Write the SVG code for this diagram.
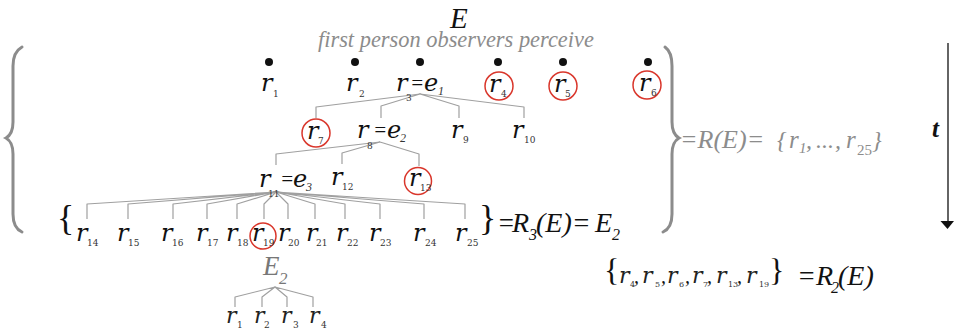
<svg xmlns="http://www.w3.org/2000/svg" width="954" height="329" viewBox="0 0 954 329">
<style>
.r{font-family:"DejaVu Serif",serif;font-style:italic;font-size:24px;fill:#111}
.rs{font-family:"DejaVu Serif",serif;font-style:italic;font-size:22px;fill:#222}
.t{font-family:"Liberation Serif",serif;font-style:italic;fill:#111}
.s{font-family:"DejaVu Serif",serif;font-size:9px;fill:#333}
.si{font-family:"Liberation Serif",serif;font-style:italic;font-size:12px;fill:#333}
.g{fill:#8c8c8c}
.c{fill:none;stroke:#d9362b;stroke-width:1.5}
.ln{fill:none;stroke:#a0a0a0;stroke-width:1.2;stroke-linejoin:round}
.br{fill:none;stroke:#8c8c8c;stroke-width:3;stroke-linecap:round}
.dot{fill:#111}
.b{font-family:"Liberation Serif",serif;fill:#111}
</style>

<g id="title">
<text x="450" y="28" class="t" font-size="29">E</text>
<text x="318" y="47" class="t g" font-size="22.4">first person observers perceive</text>
</g>

<g id="braces">
<path class="br" d="M22,47 Q13,52 13,66 L13,122 Q13,134 6,138 Q13,142 13,154 L13,214 Q13,228 22,232"/>
<path class="br" d="M665,47 Q672,52 672,66 L672,122 Q672,134 679,138 Q672,142 672,154 L672,214 Q672,228 663,232"/>
</g>

<g id="connectors">
<path class="ln" d="M420,94 L316,107 L316,118 M420,94 L381,106 L381,118 M420,94 L459,106 L459,118 M420,94 L524,107 L524,118"/>
<path class="ln" d="M380,142 L276,154 L276,165 M380,142 L342,153 L342,164 M380,142 L419,154 L419,166"/>
<path class="ln" d="M276,192 L87,204 L87,219 M276,192 L128,204 L128,219 M276,192 L173,204 L173,219 M276,192 L207,204 L207,219 M276,192 L237,204 L237,219 M276,192 L264,204 L264,219 M276,192 L288,204 L288,219 M276,192 L315,204 L315,219 M276,192 L345,204 L345,219 M276,192 L380,204 L380,219 M276,192 L424,204 L424,219 M276,192 L465,204 L465,219"/>
<path class="ln" d="M275,287 L235,297 L235,307 M275,287 L262,297 L262,307 M275,287 L287,297 L287,307 M275,287 L313,297 L313,307"/>
</g>

<g id="r1"><circle class="dot" cx="269" cy="62" r="4"/><text class="r" x="261" y="91">r</text><text class="s" x="273" y="97">1</text></g>
<g id="r2"><circle class="dot" cx="355" cy="62" r="4"/><text class="r" x="346" y="91">r</text><text class="s" x="359" y="97">2</text></g>
<g id="r3"><circle class="dot" cx="420" cy="62" r="4"/><text class="r" x="396" y="91">r</text><text class="t" x="410" y="90" font-size="21">=</text><text class="r" x="424" y="91">e</text><text class="s" x="406" y="101">3</text><text class="si" x="438" y="95">1</text></g>
<g id="r4"><circle class="dot" cx="498" cy="62" r="4"/><circle class="c" cx="499" cy="86" r="14"/><text class="r" x="489" y="92">r</text><text class="s" x="501" y="97">4</text></g>
<g id="r5"><circle class="dot" cx="563" cy="62" r="4"/><circle class="c" cx="563" cy="86" r="14"/><text class="r" x="554" y="92">r</text><text class="s" x="565" y="97">5</text></g>
<g id="r6"><circle class="dot" cx="648" cy="62" r="4"/><circle class="c" cx="647" cy="85" r="14"/><text class="r" x="639" y="91">r</text><text class="s" x="651" y="96">6</text></g>

<g id="r7"><circle class="c" cx="316" cy="133" r="14"/><text class="r" x="307" y="139">r</text><text class="s" x="318" y="144">7</text></g>
<g id="r8"><text class="r" x="357" y="138">r</text><text class="t" x="373" y="137" font-size="21">=</text><text class="r" x="387" y="138">e</text><text class="s" x="367" y="149">8</text><text class="si" x="400" y="142">2</text></g>
<g id="r9"><text class="r" x="451" y="138">r</text><text class="s" x="463" y="143">9</text></g>
<g id="r10"><text class="r" x="512" y="138">r</text><text class="s" x="524" y="143">10</text></g>

<g id="r11"><text class="r" x="259" y="187">r</text><text class="t" x="280" y="186" font-size="21">=</text><text class="r" x="293" y="187">e</text><text class="s" x="268" y="197">11</text><text class="si" x="306" y="191">3</text></g>
<g id="r12"><text class="r" x="331" y="185">r</text><text class="s" x="342" y="190">12</text></g>
<g id="r13"><circle class="c" cx="418" cy="181" r="13.5"/><text class="r" x="409" y="186">r</text><text class="s" x="420" y="191">13</text></g>

<g id="set3open"><text class="b" x="57" y="230" font-size="36">{</text></g>
<g id="r14"><text class="r" x="76" y="241">r</text><text class="s" x="87" y="246">14</text></g>
<g id="r15"><text class="r" x="117" y="241">r</text><text class="s" x="128" y="246">15</text></g>
<g id="r16"><text class="r" x="161" y="241">r</text><text class="s" x="172" y="246">16</text></g>
<g id="r17"><text class="r" x="196" y="241">r</text><text class="s" x="207" y="246">17</text></g>
<g id="r18"><text class="r" x="226" y="241">r</text><text class="s" x="237" y="246">18</text></g>
<g id="r19"><circle class="c" cx="263" cy="236" r="13"/><text class="r" x="252" y="241">r</text><text class="s" x="263" y="246">19</text></g>
<g id="r20"><text class="r" x="278" y="241">r</text><text class="s" x="288" y="246">20</text></g>
<g id="r21"><text class="r" x="306" y="241">r</text><text class="s" x="316" y="246">21</text></g>
<g id="r22"><text class="r" x="336" y="241">r</text><text class="s" x="347" y="246">22</text></g>
<g id="r23"><text class="r" x="369" y="241">r</text><text class="s" x="380" y="246">23</text></g>
<g id="r24"><text class="r" x="413" y="241">r</text><text class="s" x="425" y="246">24</text></g>
<g id="r25"><text class="r" x="455" y="241">r</text><text class="s" x="467" y="246">25</text></g>

<g id="R3">
<text class="b" x="479" y="230" font-size="36">}</text>
<text class="t" x="497" y="232" font-size="27">=</text>
<text class="t" x="512" y="232" font-size="28">R</text>
<text class="t" x="529" y="240" font-size="16">3</text>
<text class="t" x="536" y="232" font-size="28">(E)=</text>
<text class="t" x="595" y="232" font-size="28">E</text>
<text class="t" x="612" y="240" font-size="16">2</text>
</g>

<g id="RE">
<text class="t g" x="680" y="148" font-size="26">=R(E)=</text>
<text class="t g" x="777" y="148" font-size="24">{</text>
<text class="t g" x="789" y="148" font-size="25">r</text>
<text class="t g" x="799" y="153" font-size="15">1</text>
<text class="t g" x="806" y="148" font-size="24">,</text>
<text class="t g" x="816" y="148" font-size="24">...</text>
<text class="t g" x="835" y="148" font-size="24">,</text>
<text class="t g" x="846" y="148" font-size="25">r</text>
<text class="g" x="857" y="155" font-family="Liberation Serif, serif" font-size="15">25</text>
<text class="t g" x="872" y="148" font-size="24">}</text>
</g>

<g id="E2">
<text class="t" x="263" y="275" font-size="27" style="fill:#777">E</text>
<text class="t" x="279" y="284" font-size="17" style="fill:#777">2</text>
</g>
<g id="e2r1"><text class="rs" x="226" y="323">r</text><text class="s" x="237" y="328">1</text></g>
<g id="e2r2"><text class="rs" x="254" y="323">r</text><text class="s" x="264" y="328">2</text></g>
<g id="e2r3"><text class="rs" x="281" y="323">r</text><text class="s" x="293" y="328">3</text></g>
<g id="e2r4"><text class="rs" x="309" y="323">r</text><text class="s" x="321" y="328">4</text></g>

<g id="R2">
<text class="b" x="604" y="281" font-size="32">{</text>
<text class="rs" x="619" y="283">r</text><text class="s" x="630" y="287" style="font-size:8px">4</text><text class="t" x="634" y="283" font-size="20">,</text>
<text class="rs" x="642" y="283">r</text><text class="s" x="655" y="287" style="font-size:8px">5</text><text class="t" x="661" y="283" font-size="20">,</text>
<text class="rs" x="667" y="283">r</text><text class="s" x="679" y="287" style="font-size:8px">6</text><text class="t" x="685" y="283" font-size="20">,</text>
<text class="rs" x="692" y="283">r</text><text class="s" x="703" y="287" style="font-size:8px">7</text><text class="t" x="707" y="283" font-size="20">,</text>
<text class="rs" x="716" y="283">r</text><text class="s" x="728" y="287" style="font-size:8px">13</text><text class="t" x="737" y="283" font-size="20">,</text>
<text class="rs" x="746" y="283">r</text><text class="s" x="759" y="287" style="font-size:8px">19</text>
<text class="b" x="769" y="281" font-size="32">}</text>
<text class="t" x="797" y="285" font-size="28">=R</text>
<text class="t" x="831" y="293" font-size="16">2</text>
<text class="t" x="838" y="285" font-size="28">(E)</text>
</g>

<g id="time">
<line x1="948" y1="43" x2="948" y2="222" stroke="#111" stroke-width="1.3"/>
<polygon points="940.5,221 954,221 947.5,229" fill="#111"/>
<text x="932" y="137" font-family="Liberation Serif, serif" font-style="italic" font-weight="bold" font-size="25" fill="#111">t</text>
</g>
</svg>
